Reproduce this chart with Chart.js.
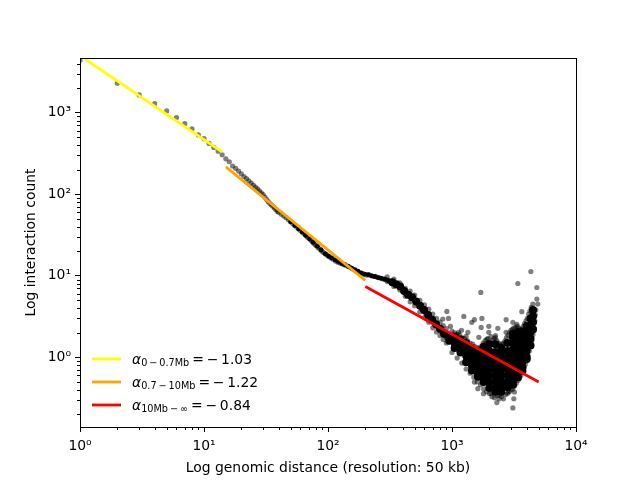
<!DOCTYPE html>
<html>
<head>
<meta charset="utf-8">
<script src="https://cdn.jsdelivr.net/npm/chart.js@4"></script>
<style>
  body { margin: 0; background: #fff; }
  canvas { display: block; }
</style>
</head>
<body>
<canvas id="chart" width="640" height="480"></canvas>
<script>
// integer distances along the main curve
const ridgeDistance = [1,2,3,4,5,6,7,8,9,10,11,12,13,14,15,16,17,18,19,20,21,22,23,24,25,26,27,28,29,30,31,32,33,34,35,36,37,38,39,40,
  42,44,46,48,50,52,54,56,58,60,62,64,66,68,70,72,74,76,78,80,83,86,89,92,95,98,102,106,110,115,120,125,130,135,140,146,152,158,165,172,180,188,196,205,
  215,225,235,245,255,265,275,285,295,305,315,325,335,345,355,365,375,385,395,405,415,425,440,455,470,485,500,515,530,550,570,590,610,630,650,670,690,710,735,760,785,810,840,870,900];
const ridgeCount = [4400,2300,1650,1290,1050,870,733,633,533,480,420,375,337,305,272,250,222,208,192,178,165,155,146,137,129,122,116,110,104,99,92,86,81,77,74,71,68,65,62,60,
  57,54,51.5,48.5,46,43.5,41.5,39.5,37.5,36,34.5,32.8,31.3,30,29,27.8,26.6,25.5,24.5,23.6,22.3,21.2,20.2,19.3,18.6,18,17.2,16.5,15.9,15.2,14.7,14.3,14,13.7,13.4,13,12.6,12.2,11.8,11.4,11,10.7,10.4,10.2,
  10.3,10,9.8,9.7,9.5,9.4,9.2,9.1,9,8.8,8.6,8.4,8.3,8.1,7.9,7.7,7.5,7.2,6.9,6.6,6.3,6,5.8,5.6,5.5,5.3,5,4.7,4.5,4.2,3.9,3.7,3.5,3.3,3.1,2.95,2.8,2.65,2.5,2.35,2.2,2.1,2,1.85,1.75];

// the curve gets thicker past 300, upper and lower edge
const bandDistance = [300,340,380,420,460,500,550,600,650,700,750,800,850,900,
  300,340,380,420,460,500,550,600,650,700,750,800,850,900];
const bandCount = [9.7,9.1,8.2,7,6.5,5.8,5,4.4,3.9,3.4,3,2.7,2.45,2.25,
  8.5,7.4,6.7,5.6,4.8,4.3,3.6,3.1,2.7,2.3,2.05,1.85,1.65,1.5];

// black run of the curve, no gaps here in the picture
const darkDistance = [50,54,58,62,66,71,76,82,88,95,101,107,114,121,129,137,146,155,165,175,186,198,211,224,238,253,269,286,304,323];
const darkCount = [46,41.5,37.5,34.5,31.3,28.4,25.8,23,20.7,18.6,17.4,16.6,15.7,15,14.2,13.7,13,12.4,11.8,11.3,10.8,10.5,10.3,10,9.8,9.5,9.3,9.1,8.8,8.4];

// solid middle of the cloud at long distance, starts with the thick end of the curve
const coreDistance = [330,355,382,411,443,477,514,553,596,642,691,744,801,863,
  950,950,1050,1050,1050,1170,1170,1170,1300,1300,1300,1300,1450,1450,1450,1450,1450,
  1620,1620,1620,1620,1620,1620,1800,1800,1800,1800,1800,1800,1800,2000,2000,2000,2000,2000,2000,2000,2000,
  2240,2240,2240,2240,2240,2240,2240,2240,2240,2500,2500,2500,2500,2500,2500,2500,2500,2500,2800,2800,2800,2800,2800,2800,2800,2800,
  3100,3100,3100,3100,3100,3100,3100,3100,3100,3100,3400,3400,3400,3400,3400,3400,3400,3400,3400,3700,3700,3700,3700,3700,3700,3700,3700,
  4000,4000,4000,4000,4000,4000,4000,4300,4300,4300,4300,4300,4500,4500,4500,4500];
const coreCount = [8.35,7.9,7.4,6.5,5.85,5.45,4.85,4.3,3.8,3.3,2.9,2.55,2.25,1.95,
  1.75,1.6,1.8,1.5,1.3,1.65,1.4,1.15,1.5,1.25,1.05,0.87,1.3,1.1,0.92,0.78,0.69,
  1.2,1,0.85,0.72,0.62,0.58,1.35,1.16,0.98,0.83,0.7,0.59,0.5,1.45,1.2,1,0.85,0.72,0.6,0.5,0.42,
  1.45,1.16,0.98,0.83,0.7,0.59,0.5,0.42,0.38,1.3,1.16,0.98,0.83,0.7,0.59,0.5,0.42,0.38,1.5,1.2,1,0.85,0.72,0.6,0.5,0.43,
  1.95,1.75,1.5,1.25,1.05,0.88,0.74,0.62,0.52,0.46,2.05,1.85,1.55,1.3,1.1,0.92,0.78,0.66,0.57,2.05,1.8,1.5,1.25,1.05,0.88,0.75,0.68,
  2.4,2.1,1.75,1.45,1.2,1,0.95,3,2.5,2.05,1.7,1.4,3.8,3.2,2.7,2.2];

// top edge of the cloud
const upperDistance = [1000,1050,1100,1150,1200,1260,1330,1400,1470,1550,1620,1700,1780,1850,1900,1950,2000,2060,2120,2180,2240,2300,2380,2450,2520,2600,2680,2750,2830,2900,2980,3060,3150,3250,3350,3450,3550,3650,3750,3850,3950,4050,4150,4250,4350];
const upperCount = [2.1,2,1.9,1.9,1.75,1.7,1.6,1.5,1.45,1.35,1.3,1.35,1.5,1.6,1.5,1.7,1.55,1.8,1.6,1.7,1.75,1.6,1.5,1.4,1.45,1.5,1.6,1.75,1.85,2,2.15,2.2,2.3,2.3,2.4,2.3,2.2,2.2,2.4,2.6,2.8,3,3.4,3.7,4.1];

// bottom and right edge of the cloud
const lowerDistance = [1000,1100,1200,1300,1400,1500,1600,1700,1800,1900,2000,2100,2200,2300,2400,2500,2600,2700,2800,2900,3000,3100,3200,3300,3400,3500,3600,3700,3800,3900,4000,4100,4200,4300,4400,4500,4600,4650,4700,4750];
const lowerCount = [1.15,0.98,0.85,0.72,0.64,0.57,0.5,0.46,0.41,0.38,0.36,0.33,0.32,0.34,0.31,0.33,0.31,0.35,0.36,0.38,0.4,0.41,0.45,0.48,0.52,0.55,0.6,0.68,0.75,0.82,0.95,1.05,1.2,1.4,1.6,1.9,2.3,2.8,3.3,3.8];

// stray points around the cloud
const strayDistance = [4325,3396,4831,1708,4831,4487,4920,909,1246,3658,4487,937,843,1445,1516,1742,972,2733,3097,3333,1719,1981,2342,1342,1193,1128,1981,2733,1646,1908,2242,1300,3097,2300,3153,1616,1794,2070,2415,3190,1516,2840];
const strayCount = [11.27,8.05,7.19,6.25,5.18,4.5,4.5,3.66,3.18,3.63,3.8,3,2.95,2.69,2.9,3,2.4,2.9,2.69,2.54,2.33,2.4,2.27,2.03,2.15,2.03,2.03,2.03,1.76,1.68,1.85,1.81,0.24,0.279,0.311,0.413,0.359,0.359,0.343,0.376,0.498,0.376];

// fitted lines
const fit1Distance = [1, 14];
const fit1Count = [5000, 330];
const fit2Distance = [15, 200];
const fit2Count = [216, 8.8];
const fit3Distance = [200, 5000];
const fit3Count = [7.4, 0.5];

const fitColors = ['#ffff00', '#ffa500', '#ff0000'];
const fitSubs = ['0\u2009\u2212\u20090.7Mb', '0.7\u2009\u2212\u200910Mb', '10Mb\u2009\u2212\u2009\u221e'];
const fitSlopes = ['=\u2009\u2212\u20091.03', '=\u2009\u2212\u20091.22', '=\u2009\u2212\u20090.84'];

const xTickLabels = { 1: '10\u2070', 10: '10\u00b9', 100: '10\u00b2', 1000: '10\u00b3', 10000: '10\u2074' };
const yTickLabels = { 1: '10\u2070', 10: '10\u00b9', 100: '10\u00b2', 1000: '10\u00b3' };

const FONT = '"DejaVu Sans"';
const toPoints = (xs, ys) => xs.map((x, i) => ({ x: x, y: ys[i] }));
const isPower = v => Math.abs(Math.log10(v) - Math.round(Math.log10(v))) < 1e-6;
const isWhole = v => {
  const m = v / Math.pow(10, Math.floor(Math.log10(v) + 1e-9));
  return Math.abs(m - Math.round(m)) < 1e-6;
};

const dots = (xs, ys) => ({
  data: toPoints(xs, ys), order: 2, pointRadius: 2.6, borderWidth: 0,
  backgroundColor: 'rgba(0,0,0,0.5)'
});
const solid = (xs, ys, radius) => ({
  data: toPoints(xs, ys), order: 2, pointRadius: radius, borderWidth: 0, backgroundColor: '#000'
});
const fitLine = (xs, ys, color) => ({
  data: toPoints(xs, ys), order: 1, showLine: true, pointRadius: 0,
  borderColor: color, borderWidth: 2.8, borderCapStyle: 'butt'
});

// minor ticks are shorter, legend has subscripts, and the frame needs all 4 sides
const extras = {
  id: 'extras',
  afterDatasetsDraw(chart) {
    const { ctx, chartArea: a, scales } = chart;
    ctx.save();
    ctx.strokeStyle = '#000';
    ctx.lineWidth = 1;
    ctx.beginPath();
    scales.x.ticks.forEach(t => {
      if (isPower(t.value)) return;
      const px = Math.round(scales.x.getPixelForValue(t.value)) + 0.5;
      ctx.moveTo(px, a.bottom);
      ctx.lineTo(px, a.bottom + 3);
    });
    scales.y.ticks.forEach(t => {
      if (isPower(t.value)) return;
      const py = Math.round(scales.y.getPixelForValue(t.value)) + 0.5;
      ctx.moveTo(a.left, py);
      ctx.lineTo(a.left - 3, py);
    });
    ctx.stroke();
    ctx.strokeRect(a.left + 0.5, a.top + 0.5, a.right - a.left, a.bottom - a.top);

    fitColors.forEach((color, i) => {
      const y = 359 + i * 23;
      ctx.strokeStyle = color;
      ctx.lineWidth = 2.8;
      ctx.beginPath();
      ctx.moveTo(92, y);
      ctx.lineTo(121, y);
      ctx.stroke();

      ctx.fillStyle = '#000';
      ctx.textBaseline = 'alphabetic';
      ctx.textAlign = 'left';
      let x = 132;
      ctx.font = 'italic 13.9px ' + FONT;
      ctx.fillText('\u03b1', x, y + 4.5);
      x += ctx.measureText('\u03b1').width;
      ctx.font = '9.7px ' + FONT;
      ctx.fillText(fitSubs[i], x, y + 7);
      x += ctx.measureText(fitSubs[i]).width + 3;
      ctx.font = '13.9px ' + FONT;
      ctx.fillText(fitSlopes[i], x, y + 4.5);
    });
    ctx.restore();
  }
};

new Chart(document.getElementById('chart'), {
  type: 'scatter',
  data: {
    datasets: [
      fitLine(fit1Distance, fit1Count, fitColors[0]),
      fitLine(fit2Distance, fit2Count, fitColors[1]),
      fitLine(fit3Distance, fit3Count, fitColors[2]),
      dots(ridgeDistance, ridgeCount),
      dots(bandDistance, bandCount),
      dots(upperDistance, upperCount),
      dots(lowerDistance, lowerCount),
      dots(strayDistance, strayCount),
      solid(darkDistance, darkCount, 2.4),
      solid(coreDistance, coreCount, 4)
    ]
  },
  plugins: [extras],
  options: {
    responsive: false,
    animation: false,
    devicePixelRatio: 1,
    layout: { padding: { top: 58, right: 64, left: 0, bottom: 0 } },
    plugins: { legend: { display: false }, tooltip: { enabled: false } },
    scales: {
      x: {
        type: 'logarithmic', min: 1, max: 10000,
        afterFit: s => { s.height = 53; },
        afterBuildTicks: s => { s.ticks = s.ticks.filter(t => isWhole(t.value)); },
        border: { color: '#000', width: 1 },
        grid: { drawOnChartArea: false, tickLength: 5, tickWidth: 1, tickColor: c => isPower(c.tick.value) ? '#000' : 'transparent' },
        ticks: { color: '#000', font: { family: FONT, size: 13.9 }, autoSkip: false, maxRotation: 0, padding: 6,
          callback: v => xTickLabels[v] || '' },
        title: { display: true, text: 'Log genomic distance (resolution: 50 kb)', color: '#000',
          font: { family: FONT, size: 13.9 }, padding: { top: 0, bottom: 3 } }
      },
      y: {
        type: 'logarithmic', min: 0.14, max: 4680,
        afterFit: s => { s.width = 80; },
        afterBuildTicks: s => { s.ticks = s.ticks.filter(t => isWhole(t.value)); },
        border: { color: '#000', width: 1 },
        grid: { drawOnChartArea: false, tickLength: 5, tickWidth: 1, tickColor: c => isPower(c.tick.value) ? '#000' : 'transparent' },
        ticks: { color: '#000', font: { family: FONT, size: 13.9 }, autoSkip: false, padding: 4,
          callback: v => yTickLabels[v] || '' },
        title: { display: true, text: 'Log interaction count', color: '#000',
          font: { family: FONT, size: 13.9 }, padding: { top: 23, bottom: 0 } }
      }
    }
  }
});
</script>
</body>
</html>
